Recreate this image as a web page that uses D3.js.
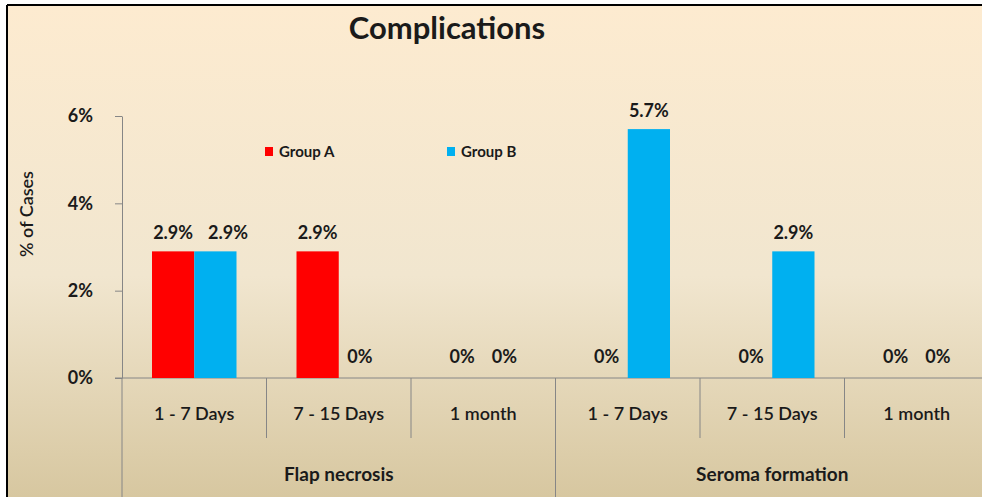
<!DOCTYPE html>
<html>
<head>
<meta charset="utf-8">
<title>Complications</title>
<script src="https://cdn.jsdelivr.net/npm/d3@7"></script>
<style>
  html, body { margin: 0; padding: 0; background: #fff; }
  svg { display: block; }
  text { font-family: Lato, "Open Sans", sans-serif; fill: #1a1a1a; }
</style>
</head>
<body>
<svg id="chart" width="982" height="497"></svg>
<script>
// data
var categories = ["1 - 7 Days", "7 - 15 Days", "1 month", "1 - 7 Days", "7 - 15 Days", "1 month"];
var groups = ["Flap necrosis", "Seroma formation"];
var seriesNames = ["Group A", "Group B"];
var groupA = [2.9, 2.9, 0, 0, 0, 0];
var groupB = [2.9, 0, 0, 5.7, 2.9, 0];
var yTicks = [0, 2, 4, 6];
var colors = ["#ff0000", "#00b0f0"];

var svg = d3.select("#chart");

// background gradient + frame
var defs = svg.append("defs");
var grad = defs.append("linearGradient").attr("id", "bg")
  .attr("x1", 0).attr("y1", 0).attr("x2", 0).attr("y2", 1);
grad.append("stop").attr("offset", "0%").attr("stop-color", "#fdebd0");
grad.append("stop").attr("offset", "55%").attr("stop-color", "#f1e6cf");
grad.append("stop").attr("offset", "100%").attr("stop-color", "#d7c7a0");

svg.append("rect").attr("x", 7).attr("y", 5).attr("width", 975).attr("height", 492)
  .attr("fill", "url(#bg)");
svg.append("line").attr("x1", 7).attr("y1", 5).attr("x2", 982).attr("y2", 5)
  .attr("stroke", "#000").attr("stroke-width", 2);
svg.append("line").attr("x1", 7).attr("y1", 5).attr("x2", 7).attr("y2", 497)
  .attr("stroke", "#000").attr("stroke-width", 2);

// scales
var x0 = 122, x1 = 989, yBase = 378, yTop = 116;
var x = d3.scaleBand().domain(d3.range(categories.length)).range([x0, x1]).padding(0);
var y = d3.scaleLinear().domain([0, 6]).range([yBase, yTop]);
var xs = d3.scaleBand().domain(seriesNames).range([30, x.bandwidth() - 30]).padding(0);

// title
svg.append("text").attr("x", 447).attr("y", 39).attr("text-anchor", "middle")
  .style("font-size", "31px").style("font-weight", "bold").text("Complications");

// y axis
var yAxis = svg.append("g").attr("transform", "translate(" + x0 + ",0)")
  .call(d3.axisLeft(y).tickValues(yTicks).tickSize(7).tickSizeOuter(0)
    .tickFormat(function(d) { return d + "%"; }));
yAxis.select(".domain").attr("stroke", "#868686");
yAxis.selectAll(".tick line").attr("stroke", "#868686");
yAxis.selectAll(".tick text").attr("x", -29).attr("fill", "#1a1a1a")
  .style("font-family", "Lato, sans-serif").style("font-size", "18px").style("font-weight", "bold");

svg.append("text").attr("transform", "translate(33,214) rotate(-90)")
  .attr("text-anchor", "middle").style("font-size", "18px").style("font-weight", "600")
  .text("% of Cases");

// x axis line and separators
svg.append("line").attr("x1", x0 - 7).attr("x2", 982).attr("y1", yBase).attr("y2", yBase)
  .attr("stroke", "#868686");
var bounds = d3.range(categories.length + 1).map(function(i) {
  return i < categories.length ? x(i) : x1;
});
svg.selectAll(".sep").data(bounds).enter().append("line")
  .attr("x1", function(d) { return d; }).attr("x2", function(d) { return d; })
  .attr("y1", yBase)
  .attr("y2", function(d, i) { return i % 3 === 0 ? 497 : 438; })
  .attr("stroke", "#868686");

svg.selectAll(".cat").data(categories).enter().append("text")
  .attr("x", function(d, i) { return x(i) + x.bandwidth() / 2; })
  .attr("y", 420).attr("text-anchor", "middle")
  .style("font-size", "18px").style("font-weight", "600").text(function(d) { return d; });

svg.selectAll(".grp").data(groups).enter().append("text")
  .attr("x", function(d, i) { return (bounds[i * 3] + bounds[i * 3 + 3]) / 2; })
  .attr("y", 481).attr("text-anchor", "middle")
  .style("font-size", "19px").style("font-weight", "bold").text(function(d) { return d; });

// bars
var rows = [];
categories.forEach(function(c, i) {
  rows.push({ i: i, s: seriesNames[0], v: groupA[i], c: colors[0] });
  rows.push({ i: i, s: seriesNames[1], v: groupB[i], c: colors[1] });
});

svg.selectAll(".bar").data(rows.filter(function(d) { return d.v > 0; })).enter().append("rect")
  .attr("x", function(d) { return x(d.i) + xs(d.s); })
  .attr("y", function(d) { return y(d.v); })
  .attr("width", xs.bandwidth())
  .attr("height", function(d) { return yBase - y(d.v); })
  .attr("fill", function(d) { return d.c; });

var labels = svg.selectAll(".val").data(rows).enter().append("text")
  .attr("class", "val")
  .attr("x", function(d) { return x(d.i) + xs(d.s) + xs.bandwidth() / 2; })
  .attr("y", function(d) { return y(d.v) - (d.v > 0 ? 12 : 15); })
  .attr("text-anchor", "middle")
  .style("font-size", "18px").style("font-weight", "bold")
  .text(function(d) { return d.v + "%"; });

// push a label right when it sits on top of its neighbour at the same height
var nodes = labels.nodes();
for (var k = 1; k < nodes.length; k += 2) {
  var a = nodes[k - 1], b = nodes[k];
  if (a.getAttribute("y") !== b.getAttribute("y")) continue;
  var aRight = +a.getAttribute("x") + a.getComputedTextLength() / 2 + 15;
  var bLeft = +b.getAttribute("x") - b.getComputedTextLength() / 2;
  if (aRight > bLeft) b.setAttribute("x", +b.getAttribute("x") + (aRight - bLeft));
}

// legend
var legX = [265, 447];
var leg = svg.selectAll(".leg").data(seriesNames).enter().append("g")
  .attr("transform", function(d, i) { return "translate(" + legX[i] + ",147)"; });
leg.append("rect").attr("width", 8).attr("height", 9)
  .attr("fill", function(d, i) { return colors[i]; });
leg.append("text").attr("x", 14).attr("y", 9.5)
  .style("font-size", "15px").style("font-weight", "bold").text(function(d) { return d; });
</script>
</body>
</html>
